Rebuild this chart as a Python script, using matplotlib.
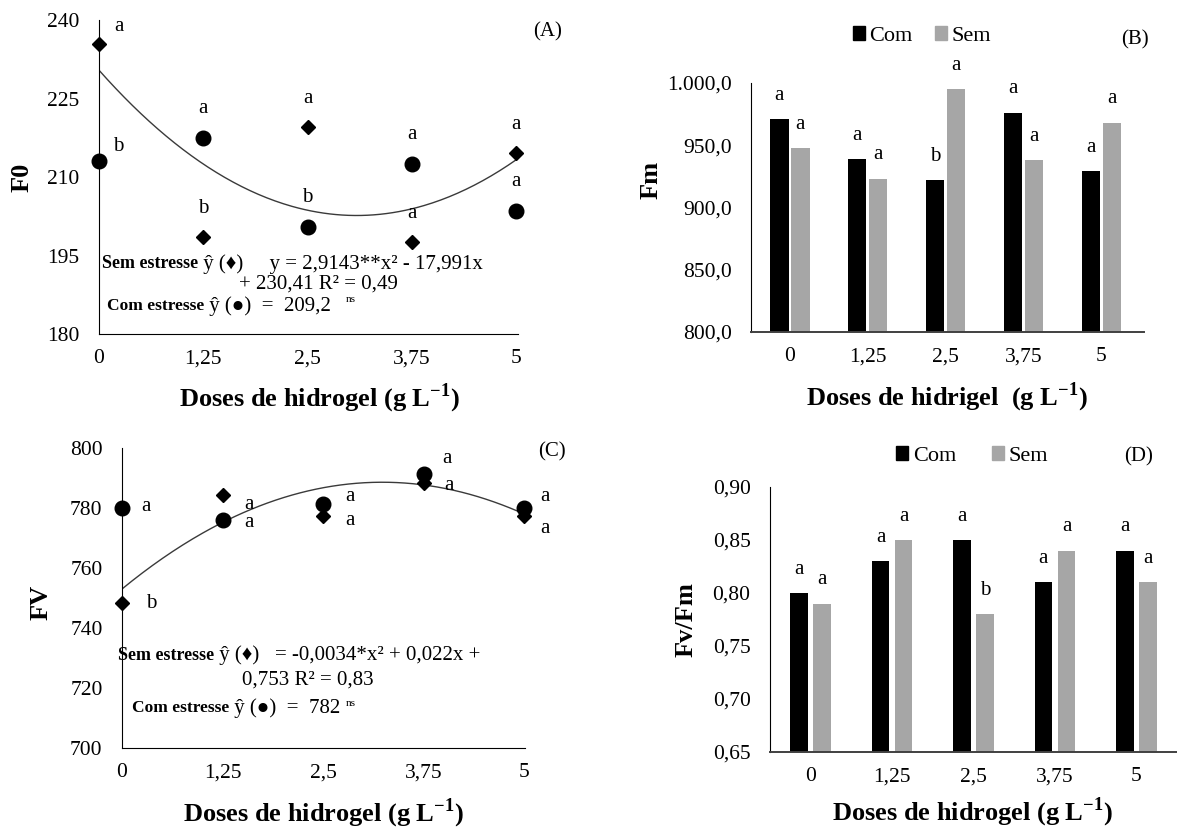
import matplotlib
matplotlib.use("Agg")
import matplotlib.pyplot as plt
import numpy as np
from matplotlib.patches import Patch
from matplotlib.ticker import FuncFormatter

plt.rcParams['font.family'] = ['Liberation Serif', 'DejaVu Serif']
plt.rcParams['mathtext.fontset'] = 'custom'
plt.rcParams['mathtext.rm'] = 'Liberation Serif'
plt.rcParams['mathtext.bf'] = 'Liberation Serif:bold'

# dados
doses = [0, 1.25, 2.5, 3.75, 5]
dose_labels = ["0", "1,25", "2,5", "3,75", "5"]

f0_sem = [235.5, 198.5, 219.5, 197.5, 214.5]
f0_com = [213.0, 217.5, 200.5, 212.5, 203.5]
f0_sem_let = ["a", "b", "a", "a", "a"]
f0_com_let = ["b", "a", "b", "a", "a"]
f0_coef = [2.9143, -17.991, 230.41]

fm_com = [971.0, 939.0, 922.0, 976.0, 929.0]
fm_sem = [947.5, 923.0, 995.0, 938.0, 968.0]
fm_com_let = ["a", "a", "b", "a", "a"]
fm_sem_let = ["a", "a", "a", "a", "a"]

fv_sem = [748.5, 784.5, 777.5, 788.5, 777.5]
fv_com = [780.0, 776.0, 781.5, 791.5, 780.0]
fv_sem_let = ["b", "a", "a", "a", "a"]
fv_com_let = ["a", "a", "a", "a", "a"]
fv_coef = [-3.4, 22.0, 753.0]  # -0,0034x2 + 0,022x + 0,753 (x1000)

fvfm_com = [0.80, 0.83, 0.85, 0.81, 0.84]
fvfm_sem = [0.79, 0.85, 0.78, 0.84, 0.81]
fvfm_com_let = ["a", "a", "a", "a", "a"]
fvfm_sem_let = ["a", "a", "b", "a", "a"]

W, H = 1177, 830
GRAY = "#a6a6a6"
TICK_FS = 15.5
LAB_FS = 19
LET_FS = 15
EQ_FS = 15


def rect(l, r, t, b):
    return [l / W, 1 - b / H, (r - l) / W, (b - t) / H]


def style_axes(ax, l, r, t, b, xlab_px, ylab_px, xlab, ylab):
    for s in ["top", "right"]:
        ax.spines[s].set_visible(False)
    ax.tick_params(length=0, labelsize=TICK_FS)
    ax.tick_params(axis="y", pad=14)
    ax.tick_params(axis="x", pad=11)
    ax.set_xlabel(xlab, fontsize=LAB_FS, fontweight="bold")
    ax.set_ylabel(ylab, fontsize=LAB_FS, fontweight="bold")
    ax.xaxis.label.set_va("center")
    ax.yaxis.label.set_va("center")
    ax.xaxis.set_label_coords((xlab_px[0] - l) / (r - l), (b - xlab_px[1]) / (b - t))
    ax.yaxis.set_label_coords((ylab_px[0] - l) / (r - l), (b - ylab_px[1]) / (b - t))


def eq_line(ax, x, y, bold, rest, fs_b=13, fs_r=EQ_FS):
    t = ax.text(x, y, bold, fontsize=fs_b, fontweight="bold", va="center", ha="left")
    r = ax.annotate(rest, xy=(1, 0.5), xycoords=t, fontsize=fs_r, va="center", ha="left")
    return r


xlab_txt = r"Doses de hidrogel (g L$^{\mathbf{-1}}$)"
xlab_txt_b = r"Doses de hidrigel  (g L$^{\mathbf{-1}}$)"

fig = plt.figure(figsize=(W / 100, H / 100), dpi=100)

# ---- (A) F0
l, r, t, b = 99, 518, 20, 334
ax = fig.add_axes(rect(l, r, t, b))
xs = np.linspace(0, 5, 200)
ax.plot(xs, np.polyval(f0_coef, xs), color="#3a3a3a", lw=1.0)
ax.plot(doses, f0_sem, "D", ms=7.5, color="black", clip_on=False, zorder=3)
ax.plot(doses, f0_com, "o", ms=10.5, color="black", clip_on=False, zorder=3)
for i in range(5):
    off_s = (14, 12) if i == 0 else (0, 21)
    off_c = (14, 11) if i == 0 else (0, 21)
    ax.annotate(f0_sem_let[i], (doses[i], f0_sem[i]), xytext=off_s, textcoords="offset points",
                ha="center", va="center", fontsize=LET_FS)
    ax.annotate(f0_com_let[i], (doses[i], f0_com[i]), xytext=off_c, textcoords="offset points",
                ha="center", va="center", fontsize=LET_FS)
ax.set_xlim(0, 5.02)
ax.set_ylim(180, 240)
ax.set_yticks([180, 195, 210, 225, 240])
ax.set_xticks(doses)
ax.set_xticklabels(dose_labels)
style_axes(ax, l, r, t, b, (319, 398), (22, 177), xlab_txt, "F0")
eq_line(ax, 0.04, 193.4, "Sem estresse", " ŷ (♦)     y = 2,9143**x² - 17,991x")
ax.text(1.68, 189.6, "+ 230,41 R² = 0,49", fontsize=EQ_FS, va="center", ha="left")
ax.text(3.02, 186.6, "ns", fontsize=8, va="center", ha="center")
eq_line(ax, 0.095, 185.3, "Com estresse", " ŷ (●)  =  209,2", fs_b=12.5)
fig.text(548 / W, 1 - 32 / H, "(A)", fontsize=15, ha="center", va="center")

# ---- (B) Fm
l, r, t, b = 751, 1144, 83, 332
ax = fig.add_axes(rect(l, r, t, b))
x = np.arange(5)
w, off = 0.235, 0.135
ax.bar(x - off, fm_com, w, color="black")
ax.bar(x + off, fm_sem, w, color=GRAY)
for i in range(5):
    ax.annotate(fm_com_let[i], (x[i] - off, fm_com[i]), xytext=(0, 14), textcoords="offset points",
                ha="center", va="baseline", fontsize=LET_FS)
    ax.annotate(fm_sem_let[i], (x[i] + off, fm_sem[i]), xytext=(0, 14), textcoords="offset points",
                ha="center", va="baseline", fontsize=LET_FS)
ax.set_xlim(-0.5, 4.55)
ax.set_ylim(800, 1000)
ax.set_yticks([800, 850, 900, 950, 1000])
ax.yaxis.set_major_formatter(FuncFormatter(
    lambda v, p: f"{v:,.1f}".replace(",", "X").replace(".", ",").replace("X", ".")))
ax.set_xticks(x)
ax.set_xticklabels(dose_labels)
style_axes(ax, l, r, t, b, (947, 397), (651, 180), xlab_txt_b, "Fm")
ax.spines["bottom"].set_color("#404040")
ax.spines["bottom"].set_linewidth(1.4)
ax.legend(handles=[Patch(color="black", label="Com"), Patch(color=GRAY, label="Sem")],
          loc="center", bbox_to_anchor=(922 / W, 1 - 36 / H), bbox_transform=fig.transFigure,
          ncol=2, frameon=False, fontsize=16, handlelength=0.55, handleheight=0.55,
          handletextpad=0.2, columnspacing=1.0, borderpad=0, borderaxespad=0)
fig.text(1135 / W, 1 - 40 / H, "(B)", fontsize=15, ha="center", va="center")

# ---- (C) FV
l, r, t, b = 122, 525, 448, 748
ax = fig.add_axes(rect(l, r, t, b))
ax.plot(xs, np.polyval(fv_coef, xs), color="#3a3a3a", lw=1.0)
ax.plot(doses, fv_sem, "D", ms=7.5, color="black", clip_on=False, zorder=3)
ax.plot(doses, fv_com, "o", ms=10.5, color="black", clip_on=False, zorder=3)
off_com = [(17, 1), (19, -2), (19, 5), (17, 11), (15, 8)]
off_sem = [(21, -1), (19, -7), (19, -3.5), (18, -2), (15, -9)]
for i in range(5):
    ax.annotate(fv_sem_let[i], (doses[i], fv_sem[i]), xytext=off_sem[i], textcoords="offset points",
                ha="center", va="center", fontsize=LET_FS)
    ax.annotate(fv_com_let[i], (doses[i], fv_com[i]), xytext=off_com[i], textcoords="offset points",
                ha="center", va="center", fontsize=LET_FS)
ax.set_xlim(0, 5.01)
ax.set_ylim(700, 800)
ax.set_yticks([700, 720, 740, 760, 780, 800])
ax.set_xticks(doses)
ax.set_xticklabels(dose_labels)
style_axes(ax, l, r, t, b, (323, 813), (41, 602), xlab_txt, "FV")
eq_line(ax, -0.05, 730.8, "Sem estresse", " ŷ (♦)   = -0,0034*x² + 0,022x +")
ax.text(1.49, 722.7, "0,753 R² = 0,83", fontsize=EQ_FS, va="center", ha="left")
rc = eq_line(ax, 0.12, 713.2, "Com estresse", " ŷ (●)  =  782", fs_b=12.5)
ax.annotate("ns", xy=(1, 0.75), xycoords=rc, xytext=(4, 0), textcoords="offset points",
            fontsize=8, va="center", ha="left")
fig.text(552 / W, 1 - 452 / H, "(C)", fontsize=15, ha="center", va="center")

# ---- (D) Fv/Fm
l, r, t, b = 770, 1177, 487, 752
ax = fig.add_axes(rect(l, r, t, b))
w, off = 0.216, 0.142
ax.bar(x - off, fvfm_com, w, color="black")
ax.bar(x + off, fvfm_sem, w, color=GRAY)
for i in range(5):
    ax.annotate(fvfm_com_let[i], (x[i] - off, fvfm_com[i]), xytext=(0, 14), textcoords="offset points",
                ha="center", va="baseline", fontsize=LET_FS)
    ax.annotate(fvfm_sem_let[i], (x[i] + off, fvfm_sem[i]), xytext=(0, 14), textcoords="offset points",
                ha="center", va="baseline", fontsize=LET_FS)
ax.set_xlim(-0.5, 4.5)
ax.set_ylim(0.65, 0.90)
ax.set_yticks([0.65, 0.70, 0.75, 0.80, 0.85, 0.90])
ax.yaxis.set_major_formatter(FuncFormatter(lambda v, p: f"{v:.2f}".replace(".", ",")))
ax.set_xticks(x)
ax.set_xticklabels(dose_labels)
style_axes(ax, l, r, t, b, (972, 812), (686, 620), xlab_txt, "Fv/Fm")
ax.spines["bottom"].set_color("#404040")
ax.spines["bottom"].set_linewidth(1.4)
ax.legend(handles=[Patch(color="black", label="Com"), Patch(color=GRAY, label="Sem")],
          loc="center", bbox_to_anchor=(972 / W, 1 - 456 / H), bbox_transform=fig.transFigure,
          ncol=2, frameon=False, fontsize=16, handlelength=0.55, handleheight=0.55,
          handletextpad=0.2, columnspacing=1.6, borderpad=0, borderaxespad=0)
fig.text(1139 / W, 1 - 457 / H, "(D)", fontsize=15, ha="center", va="center")

fig.savefig("out.png", dpi=100)
